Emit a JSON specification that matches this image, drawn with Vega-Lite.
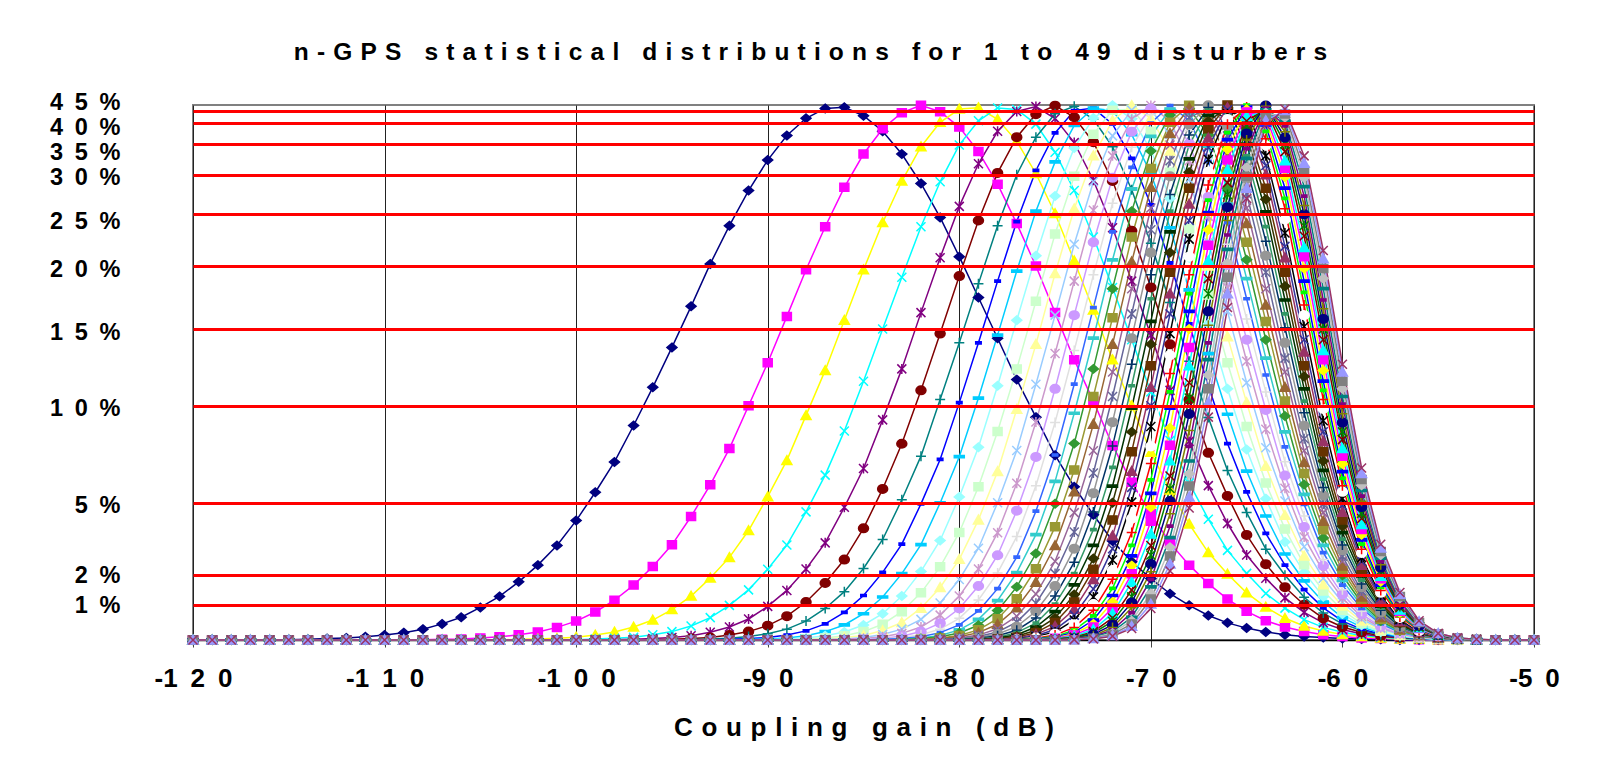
{
"$schema": "https://vega.github.io/schema/vega-lite/v6.json",
"autosize": "none",
"width": 1341,
"height": 535,
"padding": {"left": 193, "top": 105, "right": 81, "bottom": 117},
"background": "white",
"config": {"view": {"stroke": "#808080", "strokeWidth": 2}, "font": "Liberation Sans, Arial, sans-serif"},
"title": {"text": "n\u2004-\u2004G\u2004P\u2004S\u2004\u00a0\u2004s\u2004t\u2004a\u2004t\u2004i\u2004s\u2004t\u2004i\u2004c\u2004a\u2004l\u2004\u00a0\u2004d\u2004i\u2004s\u2004t\u2004r\u2004i\u2004b\u2004u\u2004t\u2004i\u2004o\u2004n\u2004s\u2004\u00a0\u2004f\u2004o\u2004r\u2004\u00a0\u20041\u2004\u00a0\u2004t\u2004o\u2004\u00a0\u20044\u20049\u2004\u00a0\u2004d\u2004i\u2004s\u2004t\u2004u\u2004r\u2004b\u2004e\u2004r\u2004s", "fontSize": 24.5, "fontWeight": "bold", "color": "black", "anchor": "middle", "dx": -53, "offset": 6, "baseline": "alphabetic"},
"datasets": {
"xs": [{"i":1,"x":-120},{"i":2,"x":-119},{"i":3,"x":-118},{"i":4,"x":-117},{"i":5,"x":-116},{"i":6,"x":-115},{"i":7,"x":-114},{"i":8,"x":-113},{"i":9,"x":-112},{"i":10,"x":-111},{"i":11,"x":-110},{"i":12,"x":-109},{"i":13,"x":-108},{"i":14,"x":-107},{"i":15,"x":-106},{"i":16,"x":-105},{"i":17,"x":-104},{"i":18,"x":-103},{"i":19,"x":-102},{"i":20,"x":-101},{"i":21,"x":-100},{"i":22,"x":-99},{"i":23,"x":-98},{"i":24,"x":-97},{"i":25,"x":-96},{"i":26,"x":-95},{"i":27,"x":-94},{"i":28,"x":-93},{"i":29,"x":-92},{"i":30,"x":-91},{"i":31,"x":-90},{"i":32,"x":-89},{"i":33,"x":-88},{"i":34,"x":-87},{"i":35,"x":-86},{"i":36,"x":-85},{"i":37,"x":-84},{"i":38,"x":-83},{"i":39,"x":-82},{"i":40,"x":-81},{"i":41,"x":-80},{"i":42,"x":-79},{"i":43,"x":-78},{"i":44,"x":-77},{"i":45,"x":-76},{"i":46,"x":-75},{"i":47,"x":-74},{"i":48,"x":-73},{"i":49,"x":-72},{"i":50,"x":-71},{"i":51,"x":-70},{"i":52,"x":-69},{"i":53,"x":-68},{"i":54,"x":-67},{"i":55,"x":-66},{"i":56,"x":-65},{"i":57,"x":-64},{"i":58,"x":-63},{"i":59,"x":-62},{"i":60,"x":-61},{"i":61,"x":-60},{"i":62,"x":-59},{"i":63,"x":-58},{"i":64,"x":-57},{"i":65,"x":-56},{"i":66,"x":-55},{"i":67,"x":-54},{"i":68,"x":-53},{"i":69,"x":-52},{"i":70,"x":-51},{"i":71,"x":-50}],
"series": [
{"n":1,"y":[0,0,0,0,0,0.01,0.02,0.04,0.06,0.09,0.14,0.21,0.31,0.46,0.65,0.93,1.29,1.78,2.42,3.23,4.26,5.54,7.1,8.98,11.2,13.8,16.8,20.2,23.9,28,32.4,37.1,42,47,48,43,38.1,33.4,28.9,24.7,20.9,17.5,14.4,11.7,9.41,7.45,5.82,4.5,3.42,2.56,1.89,1.38,0.99,0.7,0.49,0.34,0.23,0.15,0.1,0.07,0.04,0.03,0.02,0,0,0,0,0,0,0,0]},
{"n":2,"y":[0,0,0,0,0,0,0,0,0,0,0,0,0.01,0.02,0.03,0.06,0.09,0.15,0.23,0.36,0.54,0.8,1.16,1.67,2.36,3.26,4.43,5.92,7.79,10,12.8,16,19.7,23.8,28.4,33.4,38.7,44.2,49.8,44.6,39.1,33.8,28.8,24.1,20,16.3,13,10.3,7.95,6.06,4.54,3.34,2.42,1.72,1.2,0.82,0.55,0.37,0.24,0.15,0.1,0.06,0.04,0.02,0.01,0,0,0,0,0,0]},
{"n":3,"y":[0,0,0,0,0,0,0,0,0,0,0,0,0,0,0,0,0,0.02,0.03,0.05,0.08,0.14,0.23,0.37,0.57,0.87,1.3,1.91,2.74,3.85,5.31,7.18,9.5,12.3,15.7,19.7,24.2,29.2,34.6,40.4,46.4,47.6,41.6,35.7,30.2,25.1,20.5,16.5,13,10,7.6,5.65,4.12,2.94,2.05,1.41,0.94,0.62,0.4,0.26,0.16,0.1,0.06,0.03,0.02,0.01,0,0,0,0,0]},
{"n":4,"y":[0,0,0,0,0,0,0,0,0,0,0,0,0,0,0,0,0,0,0,0,0.01,0.03,0.05,0.08,0.15,0.24,0.4,0.64,0.99,1.51,2.25,3.25,4.62,6.42,8.7,11.6,15,19.1,23.8,29.1,34.9,41,47.4,46.1,39.8,33.7,28,22.8,18.3,14.3,10.9,8.21,6.02,4.32,3.03,2.08,1.39,0.91,0.58,0.36,0.22,0.13,0.08,0.04,0.02,0.01,0,0,0,0,0]},
{"n":5,"y":[0,0,0,0,0,0,0,0,0,0,0,0,0,0,0,0,0,0,0,0,0,0,0.01,0.02,0.04,0.07,0.12,0.22,0.37,0.6,0.96,1.49,2.26,3.34,4.81,6.76,9.27,12.4,16.3,20.8,26,31.8,38.1,44.7,48.6,41.9,35.4,29.3,23.7,18.8,14.6,11,8.16,5.88,4.14,2.84,1.9,1.24,0.79,0.49,0.3,0.17,0.1,0.06,0.03,0.02,0.01,0,0,0,0]},
{"n":6,"y":[0,0,0,0,0,0,0,0,0,0,0,0,0,0,0,0,0,0,0,0,0,0,0,0,0.01,0.02,0.04,0.07,0.14,0.24,0.41,0.68,1.1,1.74,2.65,3.94,5.71,8.04,11,14.7,19.2,24.4,30.3,36.7,43.6,49.4,42.4,35.5,29.2,23.4,18.3,14,10.4,7.57,5.35,3.67,2.46,1.6,1.01,0.62,0.37,0.22,0.12,0.07,0.04,0.02,0.01,0,0,0,0]},
{"n":7,"y":[0,0,0,0,0,0,0,0,0,0,0,0,0,0,0,0,0,0,0,0,0,0,0,0,0,0,0.01,0.03,0.05,0.1,0.18,0.31,0.54,0.9,1.45,2.28,3.48,5.15,7.4,10.4,14.1,18.6,23.9,30,36.7,43.8,48.9,41.6,34.6,28.1,22.2,17.1,12.9,9.39,6.66,4.59,3.08,2,1.26,0.77,0.46,0.27,0.15,0.08,0.04,0.02,0.01,0,0,0,0]},
{"n":8,"y":[0,0,0,0,0,0,0,0,0,0,0,0,0,0,0,0,0,0,0,0,0,0,0,0,0,0,0,0,0.02,0.04,0.07,0.14,0.26,0.46,0.79,1.32,2.12,3.29,4.95,7.23,10.2,14.1,18.8,24.3,30.7,37.7,45.1,47.3,39.8,32.7,26.2,20.3,15.4,11.3,8.05,5.56,3.73,2.42,1.52,0.92,0.54,0.31,0.17,0.09,0.05,0.02,0.01,0,0,0,0]},
{"n":9,"y":[0,0,0,0,0,0,0,0,0,0,0,0,0,0,0,0,0,0,0,0,0,0,0,0,0,0,0,0,0,0.02,0.03,0.06,0.12,0.24,0.43,0.75,1.27,2.07,3.27,4.99,7.37,10.5,14.6,19.6,25.4,32.1,39.5,47.2,45,37.3,30.2,23.7,18.1,13.4,9.56,6.63,4.45,2.88,1.81,1.1,0.64,0.37,0.2,0.1,0.05,0.03,0.01,0,0,0,0]},
{"n":10,"y":[0,0,0,0,0,0,0,0,0,0,0,0,0,0,0,0,0,0,0,0,0,0,0,0,0,0,0,0,0,0,0.01,0.03,0.06,0.12,0.23,0.43,0.75,1.3,2.16,3.44,5.3,7.86,11.3,15.7,21,27.3,34.4,42.1,49.8,41.8,34.1,27,20.8,15.4,11.1,7.74,5.21,3.38,2.12,1.28,0.74,0.42,0.23,0.12,0.06,0.03,0.01,0,0,0,0]},
{"n":11,"y":[0,0,0,0,0,0,0,0,0,0,0,0,0,0,0,0,0,0,0,0,0,0,0,0,0,0,0,0,0,0,0,0.01,0.03,0.06,0.12,0.24,0.45,0.81,1.41,2.35,3.77,5.82,8.67,12.4,17.2,23.1,29.8,37.4,45.5,46.2,38.1,30.4,23.6,17.7,12.8,8.93,6.02,3.91,2.44,1.47,0.85,0.47,0.25,0.13,0.06,0.03,0.01,0,0,0,0]},
{"n":12,"y":[0,0,0,0,0,0,0,0,0,0,0,0,0,0,0,0,0,0,0,0,0,0,0,0,0,0,0,0,0,0,0,0,0.01,0.03,0.07,0.13,0.27,0.5,0.91,1.59,2.66,4.29,6.61,9.82,14,19.4,25.7,33.1,41.1,49.6,42,33.9,26.4,20,14.5,10.2,6.88,4.48,2.8,1.68,0.97,0.54,0.29,0.14,0.07,0.03,0.02,0.01,0,0,0]},
{"n":13,"y":[0,0,0,0,0,0,0,0,0,0,0,0,0,0,0,0,0,0,0,0,0,0,0,0,0,0,0,0,0,0,0,0,0,0.02,0.03,0.07,0.16,0.31,0.59,1.07,1.86,3.12,5,7.69,11.4,16.1,22.1,29.1,37,45.5,45.8,37.3,29.4,22.3,16.4,11.5,7.83,5.09,3.18,1.9,1.09,0.6,0.32,0.16,0.08,0.04,0.02,0.01,0,0,0]},
{"n":14,"y":[0,0,0,0,0,0,0,0,0,0,0,0,0,0,0,0,0,0,0,0,0,0,0,0,0,0,0,0,0,0,0,0,0,0,0.02,0.04,0.09,0.19,0.37,0.71,1.3,2.26,3.76,6,9.16,13.4,18.8,25.5,33.1,41.6,49.6,40.7,32.3,24.8,18.3,12.9,8.79,5.74,3.58,2.15,1.23,0.67,0.35,0.18,0.08,0.04,0.02,0.01,0,0,0]},
{"n":15,"y":[0,0,0,0,0,0,0,0,0,0,0,0,0,0,0,0,0,0,0,0,0,0,0,0,0,0,0,0,0,0,0,0,0,0,0,0.02,0.05,0.11,0.24,0.48,0.9,1.64,2.83,4.67,7.36,11.1,16.1,22.3,29.6,38,46.9,44,35.2,27.2,20.1,14.3,9.78,6.4,4,2.39,1.36,0.74,0.38,0.19,0.09,0.04,0.02,0.01,0,0,0]},
{"n":16,"y":[0,0,0,0,0,0,0,0,0,0,0,0,0,0,0,0,0,0,0,0,0,0,0,0,0,0,0,0,0,0,0,0,0,0,0,0.01,0.03,0.07,0.15,0.31,0.62,1.17,2.1,3.6,5.87,9.14,13.6,19.3,26.4,34.5,43.4,47.3,38.2,29.7,22.1,15.8,10.9,7.11,4.45,2.65,1.51,0.82,0.42,0.21,0.1,0.04,0.02,0.01,0,0,0]},
{"n":17,"y":[0,0,0,0,0,0,0,0,0,0,0,0,0,0,0,0,0,0,0,0,0,0,0,0,0,0,0,0,0,0,0,0,0,0,0,0,0.02,0.04,0.09,0.21,0.43,0.83,1.55,2.75,4.65,7.46,11.4,16.7,23.3,31.2,40.1,49.4,41.2,32.2,24.2,17.4,12,7.88,4.93,2.94,1.67,0.9,0.46,0.22,0.1,0.05,0.02,0.01,0,0,0]},
{"n":18,"y":[0,0,0,0,0,0,0,0,0,0,0,0,0,0,0,0,0,0,0,0,0,0,0,0,0,0,0,0,0,0,0,0,0,0,0,0,0,0.02,0.06,0.13,0.29,0.59,1.15,2.11,3.68,6.1,9.61,14.4,20.6,28.2,36.9,46.3,44,34.7,26.3,19,13.1,8.65,5.43,3.24,1.83,0.98,0.5,0.24,0.11,0.05,0.02,0.01,0,0,0]},
{"n":19,"y":[0,0,0,0,0,0,0,0,0,0,0,0,0,0,0,0,0,0,0,0,0,0,0,0,0,0,0,0,0,0,0,0,0,0,0,0,0,0.01,0.04,0.09,0.2,0.42,0.84,1.61,2.9,4.96,8.05,12.4,18.2,25.4,33.9,43.3,46.9,37.2,28.3,20.6,14.3,9.47,5.94,3.54,2,1.07,0.54,0.26,0.12,0.05,0.02,0.01,0,0,0]},
{"n":20,"y":[0,0,0,0,0,0,0,0,0,0,0,0,0,0,0,0,0,0,0,0,0,0,0,0,0,0,0,0,0,0,0,0,0,0,0,0,0,0,0.02,0.06,0.13,0.29,0.61,1.21,2.27,4.01,6.69,10.6,15.9,22.8,31,40.4,49.7,39.8,30.5,22.3,15.6,10.3,6.5,3.88,2.19,1.17,0.59,0.28,0.13,0.05,0.02,0.01,0,0,0]},
{"n":21,"y":[0,0,0,0,0,0,0,0,0,0,0,0,0,0,0,0,0,0,0,0,0,0,0,0,0,0,0,0,0,0,0,0,0,0,0,0,0,0,0.01,0.04,0.09,0.21,0.45,0.92,1.77,3.23,5.56,9.05,14,20.4,28.4,37.6,47.6,42.3,32.7,24.1,16.9,11.2,7.07,4.23,2.38,1.27,0.64,0.3,0.13,0.06,0.02,0.01,0,0,0]},
{"n":22,"y":[0,0,0,0,0,0,0,0,0,0,0,0,0,0,0,0,0,0,0,0,0,0,0,0,0,0,0,0,0,0,0,0,0,0,0,0,0,0,0.01,0.02,0.06,0.14,0.32,0.68,1.37,2.58,4.59,7.68,12.2,18.2,25.8,34.9,44.8,44.8,34.9,25.8,18.2,12.2,7.68,4.59,2.58,1.37,0.68,0.32,0.14,0.06,0.02,0.01,0,0,0]},
{"n":23,"y":[0,0,0,0,0,0,0,0,0,0,0,0,0,0,0,0,0,0,0,0,0,0,0,0,0,0,0,0,0,0,0,0,0,0,0,0,0,0,0,0.01,0.04,0.1,0.23,0.51,1.06,2.07,3.79,6.53,10.6,16.2,23.5,32.3,42.3,47.3,37,27.6,19.5,13.1,8.3,4.95,2.79,1.48,0.73,0.35,0.15,0.06,0.02,0.01,0,0,0]},
{"n":24,"y":[0,0,0,0,0,0,0,0,0,0,0,0,0,0,0,0,0,0,0,0,0,0,0,0,0,0,0,0,0,0,0,0,0,0,0,0,0,0,0,0.01,0.03,0.07,0.17,0.38,0.82,1.64,3.1,5.49,9.15,14.4,21.3,29.8,39.7,49.8,39.3,29.5,21,14.1,8.97,5.37,3.03,1.6,0.79,0.37,0.16,0.07,0.02,0.01,0,0,0]},
{"n":25,"y":[0,0,0,0,0,0,0,0,0,0,0,0,0,0,0,0,0,0,0,0,0,0,0,0,0,0,0,0,0,0,0,0,0,0,0,0,0,0,0,0.01,0.02,0.05,0.12,0.28,0.63,1.3,2.54,4.62,7.92,12.7,19.3,27.5,37.2,47.8,41.4,31.3,22.4,15.1,9.64,5.78,3.25,1.71,0.85,0.39,0.17,0.07,0.03,0.01,0,0,0]},
{"n":26,"y":[0,0,0,0,0,0,0,0,0,0,0,0,0,0,0,0,0,0,0,0,0,0,0,0,0,0,0,0,0,0,0,0,0,0,0,0,0,0,0,0,0.01,0.03,0.08,0.21,0.48,1.03,2.07,3.89,6.82,11.3,17.4,25.4,34.9,45.5,43.6,33.1,23.8,16.2,10.3,6.21,3.49,1.84,0.91,0.42,0.18,0.07,0.03,0.01,0,0,0]},
{"n":27,"y":[0,0,0,0,0,0,0,0,0,0,0,0,0,0,0,0,0,0,0,0,0,0,0,0,0,0,0,0,0,0,0,0,0,0,0,0,0,0,0,0,0.01,0.02,0.06,0.15,0.37,0.81,1.68,3.24,5.85,9.88,15.6,23.3,32.6,43.1,45.8,35,25.3,17.3,11.1,6.67,3.76,1.98,0.97,0.44,0.19,0.08,0.03,0.01,0,0,0]},
{"n":28,"y":[0,0,0,0,0,0,0,0,0,0,0,0,0,0,0,0,0,0,0,0,0,0,0,0,0,0,0,0,0,0,0,0,0,0,0,0,0,0,0,0,0,0.01,0.04,0.11,0.28,0.63,1.35,2.69,5,8.65,14,21.3,30.4,40.8,48,36.9,26.9,18.4,11.9,7.15,4.03,2.12,1.04,0.47,0.2,0.08,0.03,0.01,0,0,0]},
{"n":29,"y":[0,0,0,0,0,0,0,0,0,0,0,0,0,0,0,0,0,0,0,0,0,0,0,0,0,0,0,0,0,0,0,0,0,0,0,0,0,0,0,0,0,0.01,0.03,0.08,0.21,0.5,1.1,2.25,4.29,7.62,12.6,19.5,28.3,38.7,49.9,38.7,28.3,19.5,12.6,7.62,4.29,2.25,1.1,0.5,0.21,0.08,0.03,0.01,0,0,0]},
{"n":30,"y":[0,0,0,0,0,0,0,0,0,0,0,0,0,0,0,0,0,0,0,0,0,0,0,0,0,0,0,0,0,0,0,0,0,0,0,0,0,0,0,0,0,0.01,0.02,0.06,0.16,0.39,0.88,1.86,3.63,6.62,11.2,17.8,26.3,36.5,47.8,40.7,30,20.8,13.5,8.16,4.61,2.42,1.18,0.53,0.22,0.09,0.03,0.01,0,0,0]},
{"n":31,"y":[0,0,0,0,0,0,0,0,0,0,0,0,0,0,0,0,0,0,0,0,0,0,0,0,0,0,0,0,0,0,0,0,0,0,0,0,0,0,0,0,0,0,0.01,0.04,0.12,0.3,0.71,1.54,3.1,5.79,10,16.2,24.4,34.5,45.8,42.6,31.5,21.9,14.3,8.66,4.89,2.57,1.25,0.56,0.23,0.09,0.03,0.01,0,0,0]},
{"n":32,"y":[0,0,0,0,0,0,0,0,0,0,0,0,0,0,0,0,0,0,0,0,0,0,0,0,0,0,0,0,0,0,0,0,0,0,0,0,0,0,0,0,0,0,0.01,0.03,0.09,0.23,0.57,1.27,2.63,5.03,8.93,14.7,22.6,32.5,43.8,44.5,33.1,23.2,15.2,9.22,5.21,2.73,1.33,0.59,0.25,0.1,0.03,0.01,0,0,0]},
{"n":33,"y":[0,0,0,0,0,0,0,0,0,0,0,0,0,0,0,0,0,0,0,0,0,0,0,0,0,0,0,0,0,0,0,0,0,0,0,0,0,0,0,0,0,0,0.01,0.02,0.07,0.18,0.45,1.03,2.21,4.34,7.9,13.3,20.9,30.5,41.7,46.4,34.8,24.5,16.1,9.83,5.56,2.92,1.41,0.63,0.26,0.1,0.03,0.01,0,0,0]},
{"n":34,"y":[0,0,0,0,0,0,0,0,0,0,0,0,0,0,0,0,0,0,0,0,0,0,0,0,0,0,0,0,0,0,0,0,0,0,0,0,0,0,0,0,0,0,0,0.02,0.05,0.14,0.36,0.85,1.87,3.77,7.02,12.1,19.3,28.7,39.8,48.2,36.3,25.7,16.9,10.4,5.87,3.08,1.49,0.66,0.27,0.1,0.04,0.01,0,0,0]},
{"n":35,"y":[0,0,0,0,0,0,0,0,0,0,0,0,0,0,0,0,0,0,0,0,0,0,0,0,0,0,0,0,0,0,0,0,0,0,0,0,0,0,0,0,0,0,0,0.01,0.04,0.1,0.28,0.69,1.56,3.24,6.18,10.9,17.8,26.8,37.8,49.9,38.1,27,17.9,11,6.26,3.29,1.59,0.7,0.29,0.11,0.04,0.01,0,0,0]},
{"n":36,"y":[0,0,0,0,0,0,0,0,0,0,0,0,0,0,0,0,0,0,0,0,0,0,0,0,0,0,0,0,0,0,0,0,0,0,0,0,0,0,0,0,0,0,0,0.01,0.03,0.08,0.22,0.57,1.32,2.8,5.48,9.87,16.4,25.2,36.1,48.1,39.6,28.3,18.8,11.6,6.6,3.46,1.67,0.74,0.3,0.11,0.04,0.01,0,0,0]},
{"n":37,"y":[0,0,0,0,0,0,0,0,0,0,0,0,0,0,0,0,0,0,0,0,0,0,0,0,0,0,0,0,0,0,0,0,0,0,0,0,0,0,0,0,0,0,0,0,0.02,0.06,0.18,0.46,1.1,2.4,4.81,8.85,15,23.5,34.2,46.3,41.3,29.7,19.8,12.3,7,3.68,1.78,0.78,0.32,0.12,0.04,0.01,0,0,0]},
{"n":38,"y":[0,0,0,0,0,0,0,0,0,0,0,0,0,0,0,0,0,0,0,0,0,0,0,0,0,0,0,0,0,0,0,0,0,0,0,0,0,0,0,0,0,0,0,0,0.01,0.05,0.14,0.37,0.91,2.06,4.23,7.96,13.8,22,32.4,44.5,43,31,20.9,13,7.4,3.89,1.88,0.82,0.33,0.12,0.04,0.01,0,0,0]},
{"n":39,"y":[0,0,0,0,0,0,0,0,0,0,0,0,0,0,0,0,0,0,0,0,0,0,0,0,0,0,0,0,0,0,0,0,0,0,0,0,0,0,0,0,0,0,0,0,0.01,0.04,0.11,0.3,0.76,1.77,3.71,7.16,12.6,20.5,30.8,42.8,44.5,32.3,21.8,13.6,7.79,4.1,1.97,0.86,0.35,0.13,0.04,0.01,0,0,0]},
{"n":40,"y":[0,0,0,0,0,0,0,0,0,0,0,0,0,0,0,0,0,0,0,0,0,0,0,0,0,0,0,0,0,0,0,0,0,0,0,0,0,0,0,0,0,0,0,0,0.01,0.03,0.08,0.24,0.63,1.5,3.23,6.38,11.5,19,29,40.9,46.3,33.8,22.9,14.3,8.25,4.35,2.09,0.92,0.37,0.13,0.04,0.01,0,0,0]},
{"n":41,"y":[0,0,0,0,0,0,0,0,0,0,0,0,0,0,0,0,0,0,0,0,0,0,0,0,0,0,0,0,0,0,0,0,0,0,0,0,0,0,0,0,0,0,0,0,0,0.02,0.07,0.2,0.53,1.28,2.84,5.73,10.5,17.8,27.5,39.3,47.8,35.1,23.9,15,8.65,4.56,2.19,0.96,0.38,0.14,0.04,0.01,0,0,0]},
{"n":42,"y":[0,0,0,0,0,0,0,0,0,0,0,0,0,0,0,0,0,0,0,0,0,0,0,0,0,0,0,0,0,0,0,0,0,0,0,0,0,0,0,0,0,0,0,0,0,0.01,0.05,0.16,0.43,1.08,2.47,5.09,9.57,16.4,25.9,37.6,49.5,36.6,25,15.8,9.13,4.82,2.32,1.01,0.4,0.14,0.05,0.01,0,0,0]},
{"n":43,"y":[0,0,0,0,0,0,0,0,0,0,0,0,0,0,0,0,0,0,0,0,0,0,0,0,0,0,0,0,0,0,0,0,0,0,0,0,0,0,0,0,0,0,0,0,0,0.01,0.04,0.12,0.36,0.92,2.15,4.54,8.72,15.3,24.4,36,48.9,38,26.1,16.6,9.59,5.07,2.44,1.06,0.42,0.15,0.05,0.01,0,0,0]},
{"n":44,"y":[0,0,0,0,0,0,0,0,0,0,0,0,0,0,0,0,0,0,0,0,0,0,0,0,0,0,0,0,0,0,0,0,0,0,0,0,0,0,0,0,0,0,0,0,0,0.01,0.03,0.1,0.29,0.78,1.86,4.03,7.9,14.1,23,34.3,47.3,39.4,27.3,17.3,10.1,5.34,2.56,1.11,0.44,0.16,0.05,0.01,0,0,0]},
{"n":45,"y":[0,0,0,0,0,0,0,0,0,0,0,0,0,0,0,0,0,0,0,0,0,0,0,0,0,0,0,0,0,0,0,0,0,0,0,0,0,0,0,0,0,0,0,0,0,0.01,0.02,0.08,0.24,0.65,1.61,3.56,7.15,13,21.6,32.7,45.7,40.9,28.5,18.2,10.6,5.63,2.71,1.18,0.46,0.16,0.05,0.01,0,0,0]},
{"n":46,"y":[0,0,0,0,0,0,0,0,0,0,0,0,0,0,0,0,0,0,0,0,0,0,0,0,0,0,0,0,0,0,0,0,0,0,0,0,0,0,0,0,0,0,0,0,0,0,0.02,0.06,0.2,0.55,1.39,3.16,6.49,12,20.3,31.2,44.2,42.3,29.6,19,11.1,5.9,2.84,1.23,0.48,0.17,0.05,0.01,0,0,0]},
{"n":47,"y":[0,0,0,0,0,0,0,0,0,0,0,0,0,0,0,0,0,0,0,0,0,0,0,0,0,0,0,0,0,0,0,0,0,0,0,0,0,0,0,0,0,0,0,0,0,0,0.01,0.05,0.16,0.46,1.2,2.8,5.86,11.1,19.1,29.8,42.6,43.7,30.7,19.8,11.6,6.19,2.98,1.29,0.5,0.18,0.06,0.02,0,0,0]},
{"n":48,"y":[0,0,0,0,0,0,0,0,0,0,0,0,0,0,0,0,0,0,0,0,0,0,0,0,0,0,0,0,0,0,0,0,0,0,0,0,0,0,0,0,0,0,0,0,0,0,0.01,0.04,0.13,0.39,1.03,2.47,5.29,10.2,17.8,28.3,41.1,45.2,31.9,20.7,12.2,6.51,3.13,1.36,0.53,0.19,0.06,0.02,0,0,0]},
{"n":49,"y":[0,0,0,0,0,0,0,0,0,0,0,0,0,0,0,0,0,0,0,0,0,0,0,0,0,0,0,0,0,0,0,0,0,0,0,0,0,0,0,0,0,0,0,0,0,0,0.01,0.03,0.11,0.33,0.9,2.18,4.78,9.41,16.7,27,39.6,46.5,33.1,21.5,12.7,6.79,3.28,1.42,0.55,0.19,0.06,0.02,0,0,0]}
]
},
"data": {"name": "series"},
"transform": [
{"flatten": ["y"]},
{"window": [{"op": "row_number", "as": "i"}], "groupby": ["n"]},
{"lookup": "i", "from": {"data": {"name": "xs"}, "key": "i", "fields": ["x"]}}
],
"encoding": {
"x": {"field": "x", "type": "quantitative",
 "scale": {"domain": [-120, -50], "nice": false, "zero": false},
 "axis": {"values": [-120,-110,-100,-90,-80,-70,-60,-50], "grid": true, "gridColor": "#222222", "gridWidth": 1,
  "domainColor": "#000000", "domainWidth": 1.5, "tickColor": "#444444", "tickSize": 7, "tickWidth": 1,
  "labelFontSize": 26, "labelFontWeight": "bold", "labelColor": "#000000", "labelPadding": 18, "labelOverlap": false, "labelFlush": false,
  "labelExpr": "length(toString(-datum.value)) == 3 ? '-' + substring(toString(-datum.value),0,1) + '\u2002' + substring(toString(-datum.value),1,2) + '\u2002' + substring(toString(-datum.value),2,3) : '-' + substring(toString(-datum.value),0,1) + '\u2002' + substring(toString(-datum.value),1,2)",
  "title": "C\u2004o\u2004u\u2004p\u2004l\u2004i\u2004n\u2004g\u2004\u00a0\u2004g\u2004a\u2004i\u2004n\u2004\u00a0\u2004(\u2004d\u2004B\u2004)", "titleFontSize": 26, "titleFontWeight": "bold", "titleColor": "#000000", "titleBaseline": "alphabetic", "titleY": 95}},
"y": {"field": "y", "type": "quantitative",
 "scale": {"domain": [0,1,2,5,10,15,20,25,30,35,40,45,50], "range": [535,500,470.3,397.7,300.7,224,161,109.3,69.7,39.3,18.3,5.7,0], "nice": false, "zero": false, "clamp": true},
 "axis": {"values": [1,2,5,10,15,20,25,30,35,40,45], "grid": true, "gridColor": "#ff0000", "gridWidth": 3, "domain": false, "ticks": false,
  "labelFontSize": 23.5, "labelFontWeight": "bold", "labelColor": "#000000", "labelPadding": 73, "labelOverlap": false, "labelBaseline": "middle",
  "labelOffset": {"condition": [{"test": "datum.value == 45", "value": -8}, {"test": "datum.value == 35", "value": 8}, {"test": "datum.value == 25", "value": 7}, {"test": "datum.value == 40", "value": 4}, {"test": "datum.value <= 2", "value": 0}], "value": 3},
  "labelExpr": "datum.value >= 10 ? substring(toString(datum.value),0,1) + '\u2002' + substring(toString(datum.value),1,2) + '\u2002%' : toString(datum.value) + '\u2002%'",
  "title": null, "zindex": 1}}
},
"layer": [
{"mark": {"type": "line", "strokeWidth": 1.5},
 "encoding": {"color": {"field": "n", "type": "nominal", "legend": null,
  "scale": {"domain": [1,2,3,4,5,6,7,8,9,10,11,12,13,14,15,16,17,18,19,20,21,22,23,24,25,26,27,28,29,30,31,32,33,34,35,36,37,38,39,40,41,42,43,44,45,46,47,48,49],
   "range": ["#000080","#FF00FF","#FFFF00","#00FFFF","#800080","#800000","#008080","#0000FF","#00CCFF","#99FFFF","#CCFFCC","#FFFF99","#99CCFF","#CC99CC","#CC99FF","#E0E0E0","#3366FF","#33CCCC","#339933","#999933","#996633","#996699","#666699","#969696","#003366","#339966","#003300","#333300","#663300","#993366","#333399","#000000","#FFFFFF","#FF0000","#00FF00","#0000FF","#FFFF00","#FF00FF","#00FFFF","#800000","#008000","#000080","#808000","#800080","#008080","#C0C0C0","#808080","#9999FF","#993366"]}}}},
{"mark": {"type": "point", "filled": true, "size": 100, "strokeWidth": 1.5, "opacity": 1},
 "encoding": {
  "color": {"field": "n", "type": "nominal", "legend": null},
  "stroke": {"field": "n", "type": "nominal", "legend": null,
   "scale": {"domain": [1,2,3,4,5,6,7,8,9,10,11,12,13,14,15,16,17,18,19,20,21,22,23,24,25,26,27,28,29,30,31,32,33,34,35,36,37,38,39,40,41,42,43,44,45,46,47,48,49],
    "range": ["#000080","#FF00FF","#FFFF00","#00FFFF","#800080","#800000","#008080","#0000FF","#00CCFF","#99FFFF","#CCFFCC","#FFFF99","#99CCFF","#CC99CC","#CC99FF","#E0E0E0","#3366FF","#33CCCC","#339933","#999933","#996633","#996699","#666699","#969696","#003366","#339966","#003300","#333300","#663300","#993366","#333399","#000000","#FFFFFF","#FF0000","#00FF00","#0000FF","#FFFF00","#FF00FF","#00FFFF","#800000","#008000","#000080","#808000","#800080","#008080","#C0C0C0","#808080","#9999FF","#993366"]}},
  "shape": {"field": "n", "type": "nominal", "legend": null,
   "scale": {"domain": [1,2,3,4,5,6,7,8,9,10,11,12,13,14,15,16,17,18,19,20,21,22,23,24,25,26,27,28,29,30,31,32,33,34,35,36,37,38,39,40,41,42,43,44,45,46,47,48,49],
    "range": [
"M0,-0.85L1,0L0,0.85L-1,0Z","M-0.9,-0.8H0.9V0.8H-0.9Z","M0,-0.95L1,0.8H-1Z","M-0.9,-0.9L0.9,0.9M-0.9,0.9L0.9,-0.9","M-0.9,-0.9L0.9,0.9M-0.9,0.9L0.9,-0.9M0,-1V1","M-1,0A1,0.85,0,1,0,1,0A1,0.85,0,1,0,-1,0Z","M-1,0H1M0,-1V1","M-0.55,-0.22H0.55V0.22H-0.55Z","M-1,-0.22H1V0.22H-1Z",
"M0,-0.85L1,0L0,0.85L-1,0Z","M-0.9,-0.8H0.9V0.8H-0.9Z","M0,-0.95L1,0.8H-1Z","M-0.9,-0.9L0.9,0.9M-0.9,0.9L0.9,-0.9","M-0.9,-0.9L0.9,0.9M-0.9,0.9L0.9,-0.9M0,-1V1","M-1,0A1,0.85,0,1,0,1,0A1,0.85,0,1,0,-1,0Z","M-1,0H1M0,-1V1","M-0.55,-0.22H0.55V0.22H-0.55Z","M-1,-0.22H1V0.22H-1Z",
"M0,-0.85L1,0L0,0.85L-1,0Z","M-0.9,-0.8H0.9V0.8H-0.9Z","M0,-0.95L1,0.8H-1Z","M-0.9,-0.9L0.9,0.9M-0.9,0.9L0.9,-0.9","M-0.9,-0.9L0.9,0.9M-0.9,0.9L0.9,-0.9M0,-1V1","M-1,0A1,0.85,0,1,0,1,0A1,0.85,0,1,0,-1,0Z","M-1,0H1M0,-1V1","M-0.55,-0.22H0.55V0.22H-0.55Z","M-1,-0.22H1V0.22H-1Z",
"M0,-0.85L1,0L0,0.85L-1,0Z","M-0.9,-0.8H0.9V0.8H-0.9Z","M0,-0.95L1,0.8H-1Z","M-0.9,-0.9L0.9,0.9M-0.9,0.9L0.9,-0.9","M-0.9,-0.9L0.9,0.9M-0.9,0.9L0.9,-0.9M0,-1V1","M-1,0A1,0.85,0,1,0,1,0A1,0.85,0,1,0,-1,0Z","M-1,0H1M0,-1V1","M-0.55,-0.22H0.55V0.22H-0.55Z","M-1,-0.22H1V0.22H-1Z",
"M0,-0.85L1,0L0,0.85L-1,0Z","M-0.9,-0.8H0.9V0.8H-0.9Z","M0,-0.95L1,0.8H-1Z","M-0.9,-0.9L0.9,0.9M-0.9,0.9L0.9,-0.9","M-0.9,-0.9L0.9,0.9M-0.9,0.9L0.9,-0.9M0,-1V1","M-1,0A1,0.85,0,1,0,1,0A1,0.85,0,1,0,-1,0Z","M-1,0H1M0,-1V1","M-0.55,-0.22H0.55V0.22H-0.55Z","M-1,-0.22H1V0.22H-1Z",
"M0,-0.85L1,0L0,0.85L-1,0Z","M-0.9,-0.8H0.9V0.8H-0.9Z","M0,-0.95L1,0.8H-1Z","M-0.9,-0.9L0.9,0.9M-0.9,0.9L0.9,-0.9"]}}
 }}
]
}
